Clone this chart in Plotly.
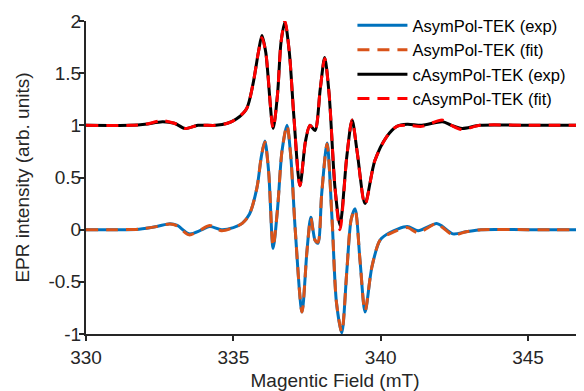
import plotly.graph_objects as go

# ---- data ----
field_asym_exp = [330.0, 331.0, 331.8, 332.4, 332.85, 333.1, 333.5, 333.9, 334.2, 334.6, 335.0, 335.3,
                  335.55, 335.8, 335.95, 336.07, 336.2, 336.35, 336.5, 336.65, 336.82, 336.95, 337.1,
                  337.33, 337.5, 337.63, 337.77, 337.87, 338.0, 338.18, 338.35, 338.5, 338.68, 338.85,
                  339.0, 339.13, 339.3, 339.47, 339.7, 339.98, 340.3, 340.9, 341.27, 341.9, 342.1,
                  342.45, 342.9, 343.4, 345.0, 347.0]
int_asym_exp = [0.0, 0.0, 0.005, 0.03, 0.057, 0.04, -0.04, -0.005, 0.03, 0.0, 0.02, 0.06,
                0.15, 0.4, 0.7, 0.85, 0.55, -0.18, 0.2, 0.75, 1.0, 0.7, 0.0,
                -0.79, -0.2, 0.12, -0.1, -0.13, 0.35, 0.83, 0.1, -0.7, -0.99, -0.4,
                0.1, 0.2, -0.3, -0.79, -0.36, -0.1, -0.03, 0.03, -0.01, 0.06, 0.03,
                -0.04, -0.02, 0.0, 0.0, 0.0]

field_asym_fit = field_asym_exp
int_asym_fit = [0.0, 0.0, 0.005, 0.03, 0.055, 0.035, -0.05, 0.0, 0.04, -0.01, 0.02, 0.06,
                0.15, 0.4, 0.7, 0.84, 0.55, -0.16, 0.2, 0.75, 1.0, 0.7, 0.0,
                -0.79, -0.2, 0.11, -0.1, -0.12, 0.35, 0.82, 0.1, -0.7, -0.98, -0.4,
                0.1, 0.19, -0.3, -0.78, -0.36, -0.1, -0.04, 0.02, -0.03, 0.06, 0.02,
                -0.05, -0.02, 0.0, 0.0, 0.0]

field_casym_exp = [330.0, 331.5, 332.0, 332.6, 333.0, 333.36, 333.8, 334.4, 334.8, 335.1, 335.45,
                   335.67, 335.85, 335.97, 336.1, 336.35, 336.5, 336.62, 336.75, 336.9, 337.05,
                   337.26, 337.45, 337.6, 337.77, 337.95, 338.1, 338.25, 338.45, 338.62, 338.85,
                   339.03, 339.2, 339.47, 339.8, 340.2, 340.55, 340.9, 341.4, 342.1, 342.4,
                   342.76, 343.37, 345.0, 347.0]
int_casym_exp = [1.0, 1.0, 1.01, 1.035, 1.02, 0.97, 1.0, 1.0, 1.02, 1.06, 1.16,
                 1.4, 1.7, 1.86, 1.7, 0.97, 1.3, 1.8, 1.99, 1.7, 1.1,
                 0.42, 0.85, 1.0, 0.95, 1.35, 1.65, 1.3, 0.4, 0.04, 0.7,
                 1.05, 0.75, 0.25, 0.66, 0.89, 0.99, 1.01, 1.0, 1.035, 1.0,
                 0.97, 1.0, 1.0, 1.0]

field_casym_fit = field_casym_exp
int_casym_fit = [1.0, 1.0, 1.01, 1.045, 1.02, 0.97, 1.0, 1.0, 1.02, 1.06, 1.16,
                 1.4, 1.7, 1.84, 1.7, 0.97, 1.3, 1.8, 2.0, 1.7, 1.1,
                 0.42, 0.85, 1.0, 0.95, 1.35, 1.64, 1.3, 0.4, 0.0, 0.7,
                 1.05, 0.75, 0.24, 0.66, 0.89, 0.99, 1.0, 0.99, 1.05, 1.0,
                 0.96, 1.0, 1.0, 1.0]

series_names = ["AsymPol-TEK (exp)", "AsymPol-TEK (fit)", "cAsymPol-TEK (exp)", "cAsymPol-TEK (fit)"]

x_tick_vals = [330, 335, 340, 345]
x_tick_text = ["330", "335", "340", "345"]
y_tick_vals = [-1, -0.5, 0, 0.5, 1, 1.5, 2]
y_tick_text = ["-1", "-0.5", "0", "0.5", "1", "1.5", "2"]

# ---- figure ----
FONT = "Liberation Sans, Arial, sans-serif"
fig = go.Figure()
styles = [
    dict(color="#0072BD", width=3, dash="solid"),
    dict(color="#D95319", width=3, dash="12px,8px"),
    dict(color="#000000", width=3, dash="solid"),
    dict(color="#FF0000", width=3, dash="12px,8px"),
]
xs = [field_asym_exp, field_asym_fit, field_casym_exp, field_casym_fit]
ys = [int_asym_exp, int_asym_fit, int_casym_exp, int_casym_fit]
for name, x, y, st in zip(series_names, xs, ys, styles):
    fig.add_trace(go.Scatter(x=x, y=y, mode="lines", name=name,
                             line=dict(color=st["color"], width=st["width"], dash=st["dash"],
                                       shape="spline", smoothing=0.8)))

# page body has an 8px margin, so the figure is sized/positioned to compensate
fig.update_layout(
    width=576, height=383,
    margin=dict(l=78, r=0, t=10, b=57),
    paper_bgcolor="white", plot_bgcolor="white",
    font=dict(family=FONT, size=19, color="#262626"),
    showlegend=True,
    legend=dict(x=0.535, y=1.043, xanchor="left", yanchor="top",
                bgcolor="rgba(0,0,0,0)", font=dict(size=16.5, color="#000000"),
                itemwidth=50, tracegroupgap=0),
)
fig.update_xaxes(range=[330, 346.9], tickvals=x_tick_vals, ticktext=x_tick_text,
                 showline=True, linecolor="#262626", linewidth=2,
                 ticks="outside", ticklen=5, tickwidth=2, tickcolor="#262626",
                 showgrid=False, zeroline=False,
                 title=dict(text="Magentic Field (mT)", font=dict(size=19), standoff=7))
fig.update_yaxes(range=[-1, 2], tickvals=y_tick_vals, ticktext=y_tick_text,
                 showline=True, linecolor="#262626", linewidth=2,
                 ticks="outside", ticklen=5, tickwidth=2, tickcolor="#262626",
                 ticklabelstandoff=-6,
                 showgrid=False, zeroline=False,
                 title=dict(text="EPR intensity (arb. units)", font=dict(size=19), standoff=14))

fig.write_html("out.html")
